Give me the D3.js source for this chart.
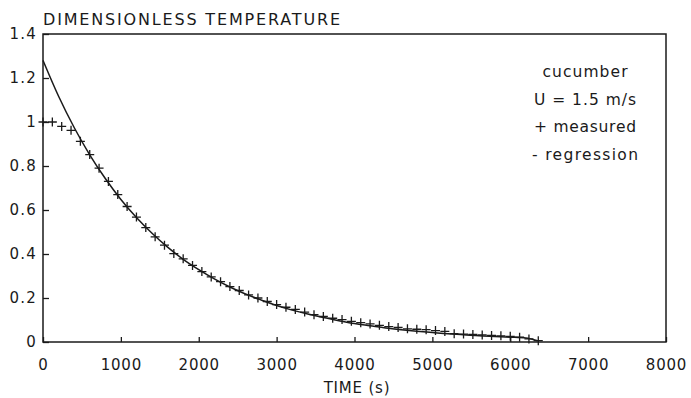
<!DOCTYPE html>
<html>
<head>
<meta charset="utf-8">
<script src="https://cdn.jsdelivr.net/npm/d3@7"></script>
<style>
  body { margin: 0; background: #fff; }
  svg { display: block; }
  text { font-family: "DejaVu Sans", sans-serif; fill: #1a1a1a; }
</style>
</head>
<body>
<div id="chart"></div>
<script>
"use strict";

// measured points (time in s, dimensionless temperature)
var measTime = [0, 120, 240, 360, 480, 600, 720, 840, 960, 1080, 1200, 1320, 1440, 1560, 1680, 1800,
  1920, 2040, 2160, 2280, 2400, 2520, 2640, 2760, 2880, 3000, 3120, 3240, 3360, 3480, 3600, 3720,
  3840, 3960, 4080, 4200, 4320, 4440, 4560, 4680, 4800, 4920, 5040, 5160, 5280, 5400, 5520, 5640,
  5760, 5880, 6000, 6120, 6240, 6360];
var measValue = [1.000, 1.000, 0.980, 0.962, 0.912, 0.852, 0.790, 0.730, 0.670, 0.616, 0.568, 0.520,
  0.478, 0.440, 0.402, 0.378, 0.348, 0.320, 0.296, 0.274, 0.252, 0.234, 0.214, 0.200, 0.184, 0.170,
  0.158, 0.148, 0.136, 0.124, 0.116, 0.108, 0.102, 0.094, 0.088, 0.082, 0.076, 0.070, 0.066, 0.060,
  0.058, 0.056, 0.052, 0.048, 0.038, 0.036, 0.034, 0.032, 0.030, 0.028, 0.026, 0.022, 0.014, 0.006];

// regression curve
var regTime = [0, 200, 400, 600, 800, 1000, 1200, 1400, 1600, 1800, 2000, 2200, 2400, 2600, 2800,
  3000, 3200, 3400, 3600, 3800, 4000, 4200, 4400, 4600, 4800, 5000, 5200, 5400, 5600, 5800, 6000,
  6200, 6350];
var regValue = [1.280, 1.117, 0.975, 0.851, 0.743, 0.648, 0.566, 0.494, 0.431, 0.376, 0.329, 0.287,
  0.250, 0.218, 0.191, 0.166, 0.145, 0.127, 0.111, 0.097, 0.084, 0.074, 0.064, 0.056, 0.049, 0.043,
  0.037, 0.033, 0.028, 0.025, 0.022, 0.018, 0.006];

var xTicks = [0, 1000, 2000, 3000, 4000, 5000, 6000, 7000, 8000];
var yTicks = [0, 0.2, 0.4, 0.6, 0.8, 1.0, 1.2, 1.4];

var legendLines = ['cucumber', 'U = 1.5 m/s', '+ measured', '- regression'];

var W = 691, H = 398;
var margin = { top: 34, right: 25, bottom: 56, left: 43 };
var width = W - margin.left - margin.right;
var height = H - margin.top - margin.bottom;
var INK = '#1a1a1a';

var svg = d3.select('#chart').append('svg')
  .attr('width', W).attr('height', H)
  .attr('viewBox', '0 0 ' + W + ' ' + H);

var g = svg.append('g').attr('transform', 'translate(' + margin.left + ',' + margin.top + ')');

var x = d3.scaleLinear().domain([0, 8000]).range([0, width]);
var y = d3.scaleLinear().domain([0, 1.4]).range([height, 0]);

// x axis, ticks pointing into the plot
var xAxis = g.append('g')
  .attr('transform', 'translate(0,' + height + ')')
  .call(d3.axisBottom(x).tickValues(xTicks).tickSizeInner(-5).tickSizeOuter(0).tickPadding(17)
    .tickFormat(d3.format('d')));
xAxis.select('.domain').remove();
xAxis.selectAll('.tick line').attr('stroke', INK).attr('stroke-width', 1.3);
xAxis.selectAll('.tick text').attr('font-size', 15).attr('letter-spacing', 0.8).attr('fill', INK);

// y axis
var yAxis = g.append('g')
  .call(d3.axisLeft(y).tickValues(yTicks).tickSizeInner(-6).tickSizeOuter(0).tickPadding(6)
    .tickFormat(function (d) { return String(+d.toFixed(1)); }));
yAxis.select('.domain').remove();
yAxis.selectAll('.tick line').attr('stroke', INK).attr('stroke-width', 1.3);
yAxis.selectAll('.tick text').attr('font-size', 15).attr('letter-spacing', 1.2).attr('fill', INK);

// frame
g.append('rect')
  .attr('x', 0).attr('y', 0).attr('width', width).attr('height', height)
  .attr('fill', 'none').attr('stroke', INK).attr('stroke-width', 1.5);

// regression line
var regData = regTime.map(function (t, i) { return [t, regValue[i]]; });
g.append('path')
  .datum(regData)
  .attr('fill', 'none')
  .attr('stroke', INK)
  .attr('stroke-width', 1.5)
  .attr('d', d3.line().x(function (d) { return x(d[0]); }).y(function (d) { return y(d[1]); })
    .curve(d3.curveMonotoneX));

// measured crosses
var measData = measTime.map(function (t, i) { return [t, measValue[i]]; });
var CROSS = 4.5;
g.append('g').selectAll('path')
  .data(measData).enter().append('path')
  .attr('fill', 'none')
  .attr('stroke', INK)
  .attr('stroke-width', 1.3)
  .attr('d', function (d) {
    var cx = x(d[0]), cy = y(d[1]);
    return 'M' + (cx - CROSS) + ',' + cy + 'H' + (cx + CROSS) +
      'M' + cx + ',' + (cy - CROSS) + 'V' + (cy + CROSS);
  });

// title
svg.append('text')
  .attr('x', 43).attr('y', 25)
  .attr('font-size', 16)
  .attr('textLength', 297).attr('lengthAdjust', 'spacing')
  .text('DIMENSIONLESS TEMPERATURE');

// x label
svg.append('text')
  .attr('x', 357).attr('y', 393)
  .attr('text-anchor', 'middle')
  .attr('font-size', 15)
  .attr('letter-spacing', 0.8)
  .text('TIME (s)');

// legend block
var legendWidths = [85, 102, 102, 106];
svg.append('g').selectAll('text')
  .data(legendLines).enter().append('text')
  .attr('x', function (d, i) { return 585 - legendWidths[i] / 2; })
  .attr('y', function (d, i) { return 77 + i * 27.5; })
  .attr('font-size', 15.5)
  .attr('textLength', function (d, i) { return legendWidths[i]; })
  .attr('lengthAdjust', 'spacing')
  .text(function (d) { return d; });
</script>
</body>
</html>
